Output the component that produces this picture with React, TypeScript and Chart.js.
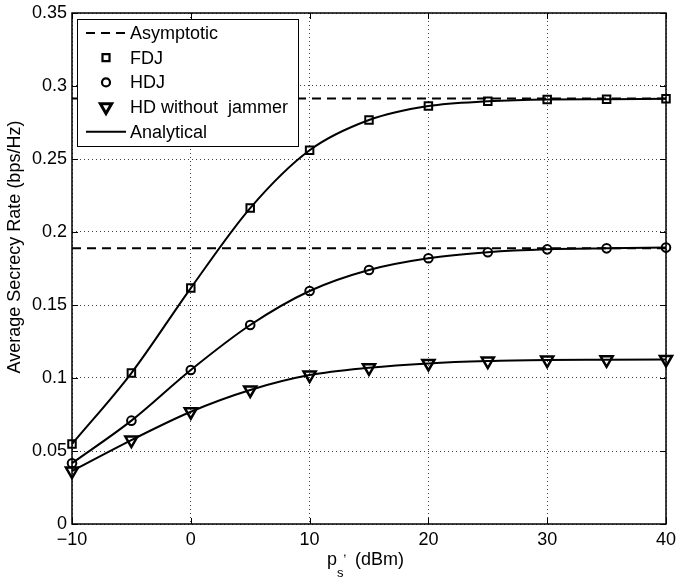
import React, { useEffect, useRef } from "react";
import { Chart, registerables } from "chart.js";

Chart.register(...registerables);

// ---- data ----
const xValues = [-10, -5, 0, 5, 10, 15, 20, 25, 30, 35, 40];
const fdjValues = [0.0548, 0.1034, 0.1616, 0.2164, 0.256, 0.2767, 0.2863, 0.2895, 0.2908, 0.291, 0.2912];
const hdjValues = [0.0416, 0.0708, 0.1055, 0.1363, 0.1596, 0.174, 0.182, 0.1861, 0.1881, 0.1888, 0.1893];
const hdNoJammerValues = [0.0363, 0.0575, 0.0769, 0.0918, 0.102, 0.107, 0.11, 0.1116, 0.1123, 0.1125, 0.1127];
const asymptoteFdj = 0.2915;
const asymptoteHdj = 0.1888;
const asymptoteX = [-10, 40];
const xTickValues = [-10, 0, 10, 20, 30, 40];
const yTickValues = [0, 0.05, 0.1, 0.15, 0.2, 0.25, 0.3, 0.35];
const legendLabels = ["Asymptotic", "FDJ", "HDJ", "HD without  jammer", "Analytical"];
const yAxisTitle = "Average Secrecy Rate (bps/Hz)";

const FONT = '"Liberation Sans", Arial, Helvetica, sans-serif';

const toPoints = (ys: number[]) => xValues.map((x, i) => ({ x, y: ys[i] }));
const flat = (v: number) => asymptoteX.map((x) => ({ x, y: v }));

function drawMarker(ctx: CanvasRenderingContext2D, kind: string, x: number, y: number) {
  ctx.beginPath();
  if (kind === "rect") {
    ctx.rect(x - 3.5, y - 3.5, 7, 7);
  } else if (kind === "circle") {
    ctx.arc(x, y, 4, 0, Math.PI * 2);
  } else {
    const r = 6.5;
    ctx.moveTo(x, y + r);
    ctx.lineTo(x - r * 0.866, y - r / 2);
    ctx.lineTo(x + r * 0.866, y - r / 2);
    ctx.closePath();
  }
  ctx.stroke();
}

const noPad = (s: any) => {
  s.paddingLeft = 0;
  s.paddingRight = 0;
  s.paddingTop = 0;
  s.paddingBottom = 0;
};

const framePlugin = {
  id: "matlabFrame",
  afterDraw(chart: any) {
    const ctx: CanvasRenderingContext2D = chart.ctx;
    const { left, right, top, bottom } = chart.chartArea;
    const xs = chart.scales.x;
    const ys = chart.scales.y;
    ctx.save();
    // box
    ctx.strokeStyle = "#000";
    ctx.lineWidth = 1.5;
    ctx.strokeRect(left, top, right - left, bottom - top);
    // inward ticks
    ctx.lineWidth = 1;
    const tl = 6;
    ctx.beginPath();
    xTickValues.forEach((v) => {
      const px = Math.round(xs.getPixelForValue(v)) + 0.5;
      ctx.moveTo(px, bottom);
      ctx.lineTo(px, bottom - tl);
      ctx.moveTo(px, top);
      ctx.lineTo(px, top + tl);
    });
    yTickValues.forEach((v) => {
      const py = Math.round(ys.getPixelForValue(v)) + 0.5;
      ctx.moveTo(left, py);
      ctx.lineTo(left + tl, py);
      ctx.moveTo(right, py);
      ctx.lineTo(right - tl, py);
    });
    ctx.stroke();

    // legend
    const bx = left + 5;
    const by = top + 6;
    const bw = 221;
    const bh = 127;
    ctx.fillStyle = "#fff";
    ctx.fillRect(bx, by, bw, bh);
    ctx.strokeStyle = "#000";
    ctx.lineWidth = 1;
    ctx.strokeRect(bx + 0.5, by + 0.5, bw, bh);
    ctx.font = `18px ${FONT}`;
    ctx.textBaseline = "middle";
    ctx.textAlign = "left";
    ctx.fillStyle = "#000";
    const sx0 = bx + 9;
    const sx1 = bx + 49;
    const sc = (sx0 + sx1) / 2;
    legendLabels.forEach((label, i) => {
      const ry = by + 14 + i * 24.7;
      ctx.strokeStyle = "#000";
      if (i === 0) {
        ctx.lineWidth = 2;
        ctx.setLineDash([9, 6]);
        ctx.beginPath();
        ctx.moveTo(sx0, ry);
        ctx.lineTo(sx1, ry);
        ctx.stroke();
        ctx.setLineDash([]);
      } else if (i === 4) {
        ctx.lineWidth = 2;
        ctx.beginPath();
        ctx.moveTo(sx0, ry);
        ctx.lineTo(sx1, ry);
        ctx.stroke();
      } else {
        ctx.lineWidth = i === 3 ? 3 : 2.2;
        drawMarker(ctx, i === 1 ? "rect" : i === 2 ? "circle" : "tri", sc, ry);
      }
      ctx.fillText(label, bx + 53, ry + 1);
    });

    // y title
    ctx.save();
    ctx.font = `18px ${FONT}`;
    ctx.textAlign = "center";
    ctx.textBaseline = "middle";
    ctx.translate(15, 247);
    ctx.rotate(-Math.PI / 2);
    ctx.fillText(yAxisTitle, 0, 0);
    ctx.restore();

    // x title: p_s, (dBm)
    ctx.textAlign = "left";
    ctx.textBaseline = "alphabetic";
    ctx.font = `18px ${FONT}`;
    ctx.fillText("p", 327, 565);
    ctx.font = `13px ${FONT}`;
    ctx.fillText("s", 337, 577);
    ctx.fillText(",", 343, 556);
    ctx.font = `18px ${FONT}`;
    ctx.fillText("(dBm)", 355, 565);
    ctx.restore();
  },
};

export default function App() {
  const ref = useRef<HTMLCanvasElement | null>(null);

  useEffect(() => {
    if (!ref.current) return;
    const lineBase = {
      borderColor: "#000",
      borderWidth: 2,
      pointBackgroundColor: "rgba(0,0,0,0)",
      pointBorderColor: "#000",
      pointBorderWidth: 2,
      cubicInterpolationMode: "monotone" as const,
      clip: false as any,
      fill: false,
    };
    const chart = new Chart(ref.current, {
      type: "line",
      data: {
        datasets: [
          {
            label: "Asymptotic FDJ",
            data: flat(asymptoteFdj),
            borderColor: "#000",
            borderWidth: 2,
            borderDash: [9, 6],
            pointRadius: 0,
            fill: false,
          },
          {
            label: "Asymptotic HDJ",
            data: flat(asymptoteHdj),
            borderColor: "#000",
            borderWidth: 2,
            borderDash: [9, 6],
            pointRadius: 0,
            fill: false,
          },
          { ...lineBase, label: "FDJ", data: toPoints(fdjValues), pointStyle: "rect", pointRadius: 5.3 },
          { ...lineBase, label: "HDJ", data: toPoints(hdjValues), pointStyle: "circle", pointRadius: 4.3 },
          {
            ...lineBase,
            label: "HD without jammer",
            data: toPoints(hdNoJammerValues),
            pointStyle: "triangle",
            pointRotation: 180,
            pointRadius: 7,
            pointBorderWidth: 2.5,
          },
        ] as any,
      },
      options: {
        animation: false,
        responsive: true,
        maintainAspectRatio: false,
        layout: { padding: { left: 0, top: 13, right: 10, bottom: 0 } },
        plugins: { legend: { display: false }, tooltip: { enabled: false } },
        scales: {
          x: {
            type: "linear",
            min: -10,
            max: 40,
            afterFit: (s: any) => {
              s.height = 54;
              noPad(s);
            },
            afterBuildTicks: (s: any) => {
              s.ticks = xTickValues.map((v) => ({ value: v }));
            },
            ticks: {
              color: "#000",
              font: { family: FONT, size: 18 },
              padding: 5,
              maxRotation: 0,
              callback: (v: any) => (Number(v) < 0 ? "\u2212" + Math.abs(Number(v)) : String(v)),
            },
            grid: { color: "rgba(0,0,0,0.75)", lineWidth: 1, drawTicks: false },
            border: { display: false, dash: [1, 3] },
          },
          y: {
            type: "linear",
            min: 0,
            max: 0.35,
            afterFit: (s: any) => {
              s.width = 72;
              noPad(s);
            },
            afterBuildTicks: (s: any) => {
              s.ticks = yTickValues.map((v) => ({ value: v }));
            },
            ticks: {
              color: "#000",
              font: { family: FONT, size: 18 },
              padding: 5,
              callback: (v: any) => String(Math.round(Number(v) * 100) / 100),
            },
            grid: { color: "rgba(0,0,0,0.75)", lineWidth: 1, drawTicks: false },
            border: { display: false, dash: [1, 3] },
          },
        },
      },
      plugins: [framePlugin],
    });
    return () => chart.destroy();
  }, []);

  return (
    <div style={{ position: "fixed", left: 0, top: 0, width: 676, height: 578, background: "#fff" }}>
      <canvas ref={ref} />
    </div>
  );
}
